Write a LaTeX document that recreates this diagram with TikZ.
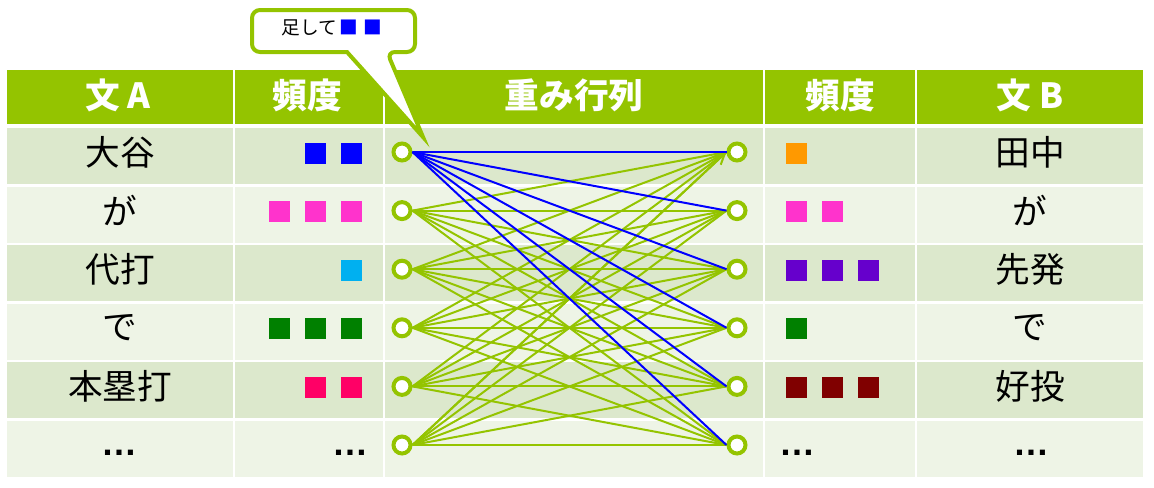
\documentclass[tikz,border=0pt]{standalone}
\usepackage{fontspec}
\setmainfont{Noto Sans CJK JP}
\newfontfamily\dotsfont{Liberation Sans}
\usetikzlibrary{arrows.meta}

\begin{document}
\begin{tikzpicture}[x=0.75pt, y=-0.75pt,
	word/.style={font=\fontsize{26}{30}\selectfont, text=black, inner sep=0pt},
	dots/.style={font=\fontsize{27}{30}\dotsfont\bfseries, text=black, inner sep=0pt},
	head/.style={font=\fontsize{26}{30}\selectfont\bfseries, text=white, inner sep=0pt},
	freqbox/.style={minimum size=15.75pt, inner sep=0pt, outer sep=0pt},
	port/.style={circle, draw=barGreen, line width=3pt, fill=white, minimum size=12.75pt, inner sep=0pt},
	link/.style={barGreen, line width=1.5pt},
	hit/.style={fqBlue, line width=1.5pt}
	]

	% Define colors
	\definecolor{barGreen}{RGB}{148,196,0}
	\definecolor{rowDark}{RGB}{220,232,204}
	\definecolor{rowLight}{RGB}{238,244,230}
	\definecolor{fqBlue}{RGB}{0,0,255}
	\definecolor{fqPink}{RGB}{255,51,204}
	\definecolor{fqCyan}{RGB}{0,176,240}
	\definecolor{fqGreen}{RGB}{0,128,0}
	\definecolor{fqRose}{RGB}{255,0,102}
	\definecolor{fqOrange}{RGB}{255,153,0}
	\definecolor{fqPurple}{RGB}{102,0,204}
	\definecolor{fqMaroon}{RGB}{128,0,0}

	\useasboundingbox (0,0) rectangle (1154,487);

	% Draw the header and the rows
	\fill[barGreen] (7,70) rectangle (1143,124);
	\foreach \i/\c in {1/rowDark, 2/rowLight, 3/rowDark, 4/rowLight, 5/rowDark, 6/rowLight} {
		\pgfmathsetmacro\y{152+58.6*(\i-1)}
		\fill[\c] (7,\y-24) rectangle (1143,\y+32);
	}

	% Draw the column lines
	\foreach \x in {234, 384, 764, 916} {
		\draw[white, line width=1.5pt] (\x,70) -- (\x,477);
	}

	% Header texts
	\node[head] (hA) at (118,95) {文 A};
	\node[head] (hFA) at (307,95) {頻度};
	\node[head] (hW) at (574,95) {重み行列};
	\node[head] (hFB) at (840,95) {頻度};
	\node[head] (hB) at (1030,95) {文 B};

	% Words of both sentences
	\foreach \i/\wa/\wb in {1/大谷/田中, 2/が/が, 3/代打/先発, 4/で/で, 5/本塁打/好投} {
		\pgfmathsetmacro\y{152+58.6*(\i-1)}
		\node[word] (a\i) at (120,\y) {\wa};
		\node[word] (b\i) at (1030,\y) {\wb};
	}
	\node[dots] (a6) at (119,453) {…};
	\node[dots] (fa6) at (350,453) {…};
	\node[dots] (fb6) at (797,453) {…};
	\node[dots] (b6) at (1031,453) {…};

	% Frequency squares
	\foreach \i/\n/\c in {1/2/fqBlue, 2/3/fqPink, 3/1/fqCyan, 4/3/fqGreen, 5/2/fqRose} {
		\pgfmathsetmacro\y{153+58.6*(\i-1)}
		\foreach \k in {1,...,\n} {
			\node[freqbox, fill=\c] (fa\i-\k) at (351-36*\k+36,\y) {};
		}
	}
	\foreach \i/\n/\c in {1/1/fqOrange, 2/2/fqPink, 3/3/fqPurple, 4/1/fqGreen, 5/3/fqMaroon} {
		\pgfmathsetmacro\y{153+58.6*(\i-1)}
		\foreach \k in {1,...,\n} {
			\node[freqbox, fill=\c] (fb\i-\k) at (796+36*\k-36,\y) {};
		}
	}

	% Ports of the weight matrix
	\foreach \i in {1,...,6} {
		\pgfmathsetmacro\y{152+58.6*(\i-1)}
		\node[port] (L\i) at (402,\y) {};
		\node[port] (R\i) at (737,\y) {};
	}

	% Draw the links
	\foreach \i in {2,...,6} {
		\foreach \j in {1,...,6} {
			\draw[link] (L\i.east) -- (R\j.west);
		}
	}
	\draw[link, -{Straight Barb[length=8pt, width=8pt]}] (L6.east) -- (R1.west);
	\foreach \j in {1,...,6} {
		\draw[hit] (L1.east) -- (R\j.west);
	}

	% Draw the callout
	\draw[barGreen, line width=3pt, fill=white, rounded corners=6] (252,10) -- (415,10) -- (415,52) -- (387,52)
		[sharp corners] -- (423,137) -- (347,52) [rounded corners=6] -- (252,52) -- cycle;
	\node[font=\fontsize{14}{17}\selectfont, inner sep=0pt] (note) at (332,28) {足して{\color{fqBlue}\hspace{2pt}■\hspace{4pt}■}};

\end{tikzpicture}
\end{document}
